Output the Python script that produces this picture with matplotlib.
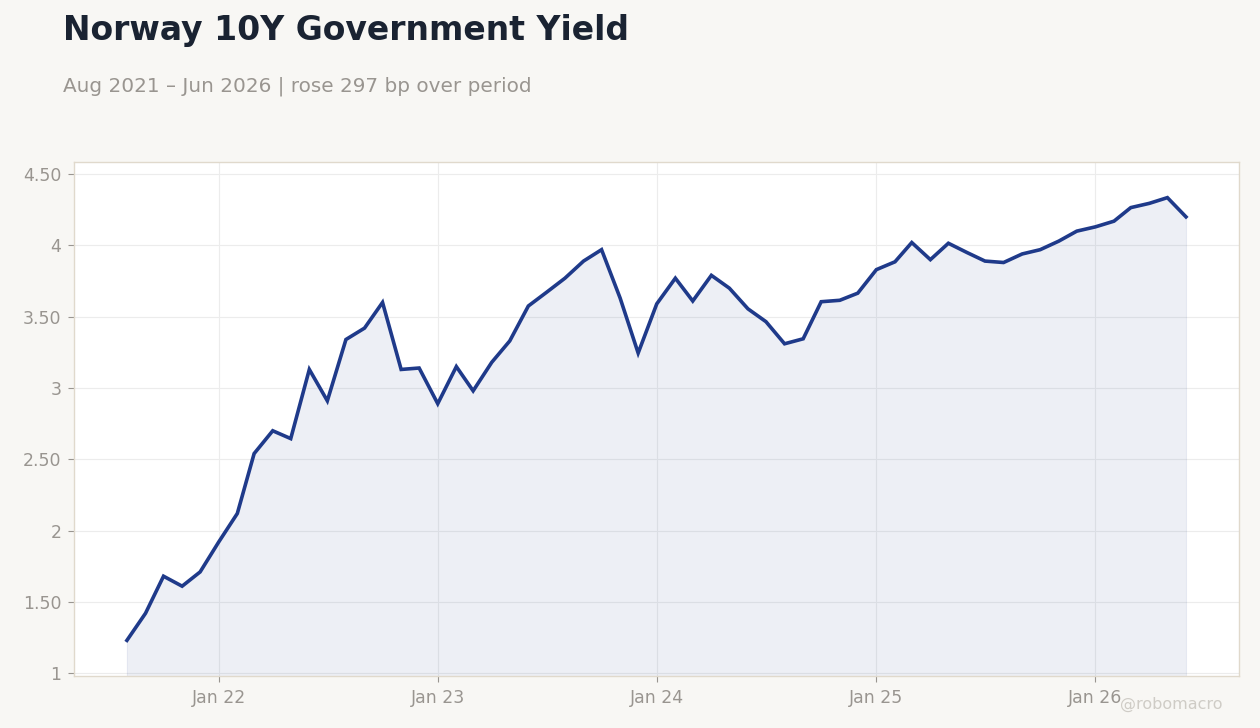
import numpy as np
import pandas as pd
import matplotlib
matplotlib.use('Agg')
import matplotlib.pyplot as plt
import matplotlib.dates as mdates
from matplotlib.ticker import FuncFormatter, MultipleLocator

# monthly yields, Aug 2021 .. Jun 2026
start_month = '2021-08-01'
yields = [1.23, 1.42, 1.68, 1.61, 1.71, 1.92, 2.12, 2.54, 2.70, 2.645,
          3.13, 2.91, 3.34, 3.42, 3.60, 3.13, 3.14, 2.89, 3.15, 2.98,
          3.18, 3.33, 3.575, 3.67, 3.77, 3.89, 3.97, 3.63, 3.245, 3.59,
          3.77, 3.61, 3.79, 3.70, 3.555, 3.465, 3.31, 3.345, 3.605, 3.615,
          3.665, 3.83, 3.885, 4.02, 3.90, 4.015, 3.95, 3.89, 3.88, 3.94,
          3.97, 4.03, 4.10, 4.13, 4.17, 4.265, 4.295, 4.335, 4.20]
dates = pd.date_range(start_month, periods=len(yields), freq='MS')

title = 'Norway 10Y Government Yield'
subtitle = 'Aug 2021 \u2013 Jun 2026 | rose 297 bp over period'
handle = '@robomacro'

navy = '#1f3a8a'
grey = '#999590'

fig = plt.figure(figsize=(12.6, 7.28), dpi=100, facecolor='#f8f7f4')
ax = fig.add_axes([0.0587, 0.0714, 0.9246, 0.7061])
ax.set_facecolor('white')

ax.fill_between(dates, yields, 0, color=navy, alpha=0.08, linewidth=0.8)
ax.plot(dates, yields, color=navy, linewidth=2.6, solid_joinstyle='miter')

ax.set_ylim(min(yields) - 0.25, max(yields) + 0.25)
ax.margins(x=0.05)
ax.yaxis.set_major_locator(MultipleLocator(0.5))

def yfmt(v, pos):
    if abs(v - round(v)) < 1e-9:
        return '%d' % round(v)
    return '%.2f' % v

ax.yaxis.set_major_formatter(FuncFormatter(yfmt))
ax.xaxis.set_major_locator(mdates.MonthLocator(bymonth=1))
ax.xaxis.set_major_formatter(mdates.DateFormatter('%b %y'))

ax.grid(True, color='#ececec', linewidth=0.8)
ax.set_axisbelow(True)
for s in ax.spines.values():
    s.set_color('#e0d9cc')
    s.set_linewidth(1.0)
ax.tick_params(colors='#999590', labelcolor=grey, labelsize=12.5, length=4, width=0.8, pad=5)

fig.text(0.05, 0.958, title, fontsize=23.8, fontweight='bold', color='#1a2332', va='center')
fig.text(0.05, 0.882, subtitle, fontsize=14.4, color=grey, va='center')
fig.text(0.97, 0.032, handle, fontsize=11.5, color='#cfccc6', ha='right', va='center')

fig.savefig('out.png', dpi=100, facecolor=fig.get_facecolor())
